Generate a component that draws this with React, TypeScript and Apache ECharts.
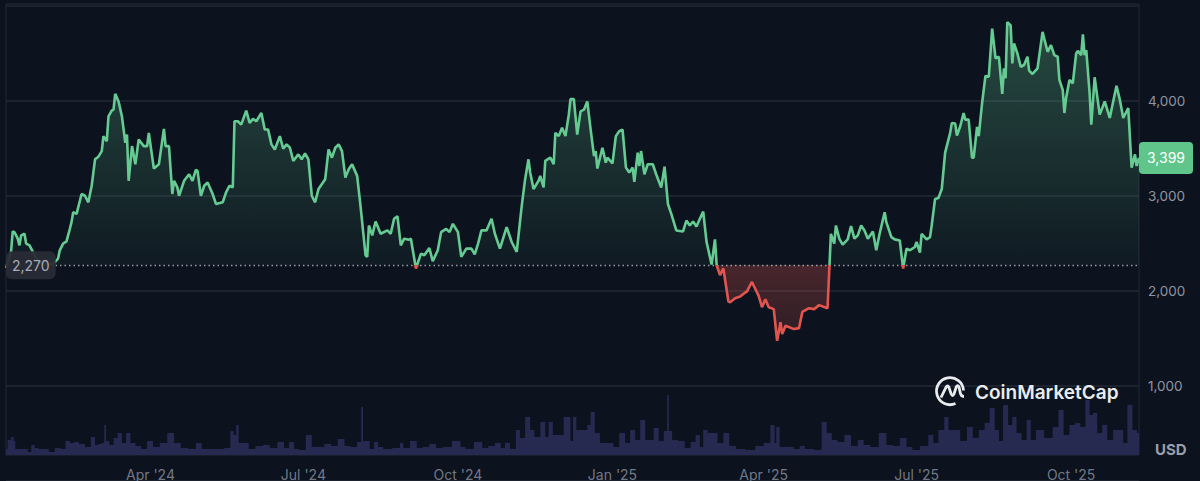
import React, { useEffect, useRef } from "react";
import * as echarts from "echarts";

const START = Date.UTC(2024, 0, 6);
const DAY = 86400000;
const END_DAY = 674.4;
const BASE_PRICE = 2270;
const PRICE_CEILING = 5000;
const LAST_LABEL = "3,399";
const BASE_LABEL = "2,270";
const FONT = "Inter, 'Noto Sans', sans-serif";
const BG = "#0c131e";
const GREEN = "#66cb92";
const RED = "#e2554f";

const tickDates = [
  Date.UTC(2024, 3, 1), Date.UTC(2024, 6, 1), Date.UTC(2024, 9, 1), Date.UTC(2025, 0, 1),
  Date.UTC(2025, 3, 1), Date.UTC(2025, 6, 1), Date.UTC(2025, 9, 1),
];
const tickLabels = ["Apr '24", "Jul '24", "Oct '24", "Jan '25", "Apr '25", "Jul '25", "Oct '25"];
const priceTicks = [1000, 2000, 3000, 4000];

// [day since start, price USD]
const priceA: number[][] = [
  [0,2240],[3,2410],[4,2625],[5,2618],[7,2549],[8,2479],[9,2584],[11,2601],[12,2497],[14,2479],[16,2410],
  [19,2310],[24,2280],[28,2285],[31,2340],[32,2427],[34,2497],[36,2521],[38,2653],[39,2723],[40,2827],[42,2810],
  [45,3019],[47,3001],[49,2932],[51,3106],[53,3384],[55,3412],[57,3471],[58,3628],[60,3575],[61,3836],[63,3899],
  [64,3906],[65,4073],[67,3993],[69,3836],[71,3558],[72,3645],[73,3158],[75,3523],[77,3332],[79,3593],[82,3523],
  [84,3523],[85,3662],[88,3287],[91,3332],[94,3704],[95,3523],[97,3523],[99,3019],[100,3158],[102,3088],[103,3001],
  [106,3158],[109,3227],[111,3158],[113,3273],[114,3262],[116,3001],[118,3106],[120,3140],[123,3019],[125,2914],
  [129,2932],[131,3036],[133,3106],[135,3088],[136,3784],[138,3784],[140,3749],[143,3896],[145,3767],[147,3809],
  [149,3784],[152,3871],[154,3697],[156,3697],[158,3541],[160,3488],[163,3628],[165,3495],[167,3541],[169,3506],
  [171,3367],[174,3436],[176,3384],[178,3447],[180,3384],[182,3001],[184,2932],[186,3071],[190,3175],[192,3488],
  [194,3401],[196,3506],[198,3541],[200,3471],[202,3193],[204,3280],[206,3332],[209,3210],[211,2897],[214,2375],
  [215,2357],[216,2688],[218,2584],[220,2730],[223,2601],[227,2636],[229,2601],[231,2758],[233,2785],[235,2479],
];
const priceB: number[][] = [
  [237,2549],[240,2538],[241,2549],[242,2444],[244,2235],[247,2392],[249,2375],[252,2451],[254,2312],[257,2427],
  [259,2618],[262,2653],[264,2618],[266,2705],[269,2618],[271,2357],[274,2444],[277,2444],[279,2385],[281,2497],
  [283,2636],[286,2636],[289,2758],[291,2601],[294,2444],[298,2671],[301,2514],[304,2410],[307,2897],[309,3175],
  [311,3384],[312,3245],[314,3071],[317,3158],[318,3210],[320,3088],[321,3367],[324,3401],[326,3332],[327,3662],
  [329,3628],[331,3715],[333,3628],[335,3854],[336,4017],[338,4017],[340,3645],[342,3889],[344,3906],[346,3993],
  [348,3697],[350,3419],[351,3471],[352,3287],[355,3506],[357,3349],[358,3401],[361,3342],[363,3628],[365,3680],
  [367,3697],[369,3297],[371,3245],[373,3297],[374,3147],[376,3454],[377,3314],[378,3471],[380,3227],[382,3332],
  [385,3332],[387,3227],[390,3088],[392,3307],[394,2914],[396,2810],[399,2636],[403,2625],[405,2740],[407,2688],
  [409,2730],[411,2678],[413,2758],[415,2834],[417,2514],[420,2277],[422,2542],[423,2270],[425,2166],[427,2236],
  [430,1888],[431,1881],[434,1922],[437,1940],[440,1983],[441,1992],[444,2094],[448,1947],[450,1828],[452,1912],
  [454,1828],[457,1808],[459,1475],[461,1671],[462,1545],[464,1633],[469,1598],[472,1608],
];
const priceC: number[][] = [
  [474,1779],[478,1818],[481,1808],[484,1850],[489,1818],[490,2200],[491,2600],[493,2497],[494,2688],[496,2549],
  [498,2486],[501,2542],[503,2681],[505,2549],[507,2584],[509,2688],[511,2636],[513,2549],[516,2625],[518,2427],
  [520,2601],[523,2827],[524,2723],[527,2566],[529,2542],[532,2531],[534,2235],[536,2444],[538,2427],[541,2462],
  [542,2514],[544,2403],[545,2601],[548,2542],[550,2566],[551,2688],[553,2966],[555,2977],[557,3071],[559,3454],
  [562,3662],[563,3767],[565,3760],[566,3635],[568,3732],[570,3871],[571,3802],[573,3802],[575,3401],[576,3401],
  [578,3725],[579,3628],[581,3976],[583,4261],[585,4254],[587,4759],[589,4445],[591,4463],[593,4073],[594,4341],
  [595,4237],[596,4828],[598,4793],[599,4393],[600,4602],[602,4498],[604,4358],[606,4376],[608,4463],[609,4317],
  [611,4282],[614,4341],[617,4724],[618,4654],[620,4515],[622,4585],[624,4480],[626,4463],[627,4219],[629,4115],
  [630,3871],[631,4028],[633,4219],[635,4184],[637,4498],[638,4525],[640,4480],[641,4699],[642,4480],[643,4532],
  [645,4080],[646,3749],[648,4247],[649,4115],[651,3854],[654,3993],[657,3819],[661,4157],[663,4010],[665,3819],
  [668,3923],[670,3297],[672,3436],[673,3314],[674.4,3399],
];

// [day since start, relative volume]
const volumeA: number[][] = [
  [0,6],[2,15],[4,18],[5,14],[6,6],[12,6],[14,3],[16,10],[18,7],[21,6],[24,6],[27,3],[31,7],[34,6],[37,14],[39,12],
  [42,13],[45,11],[49,8],[52,18],[54,10],[56,11],[58,12],[59,30],[60,14],[63,10],[65,17],[68,22],[70,12],[73,22],[75,12],
  [79,9],[82,6],[86,14],[89,8],[94,12],[98,22],[102,12],[106,7],[111,6],[115,12],[118,6],[123,6],[128,6],[132,7],
  [135,24],[136,20],[138,30],[139,12],[143,12],[146,6],[151,9],[155,10],[159,7],[164,13],[167,7],[170,13],[173,6],
  [176,5],[181,20],[183,8],[187,8],[192,11],[195,9],[200,16],[203,9],[207,8],[211,13],[212,48],[213,14],[215,14],
  [218,6],[220,13],[223,8],[226,6],[234,7],
];
const volumeB: number[][] = [
  [235,12],[238,7],[243,14],[246,7],[250,8],[254,11],[258,7],[262,8],[269,14],[272,8],[275,6],[282,13],[285,7],[289,9],
  [293,12],[296,7],[298,12],[302,6],[305,25],[307,17],[311,38],[313,25],[316,18],[320,33],[322,18],[324,33],[327,20],
  [331,20],[333,38],[335,38],[337,14],[338,38],[341,25],[345,25],[347,30],[349,43],[352,22],[355,12],[360,12],[363,8],
  [367,22],[370,12],[373,25],[376,15],[379,35],[382,15],[384,15],[387,27],[390,14],[393,24],[394,60],[395,24],[398,15],
  [402,14],[406,7],[409,13],[412,20],[414,8],[416,25],[419,22],[422,22],[425,12],[429,22],[432,9],[437,6],[443,5],
  [449,9],[453,12],[457,30],[458,12],[459,28],[462,8],[466,8],[472,6],
];
const volumeC: number[][] = [
  [473,9],[478,6],[484,5],[487,33],[490,22],[493,15],[497,13],[501,20],[505,9],[509,15],[512,10],[517,8],[522,22],
  [526,10],[530,9],[534,17],[538,8],[541,5],[547,9],[551,20],[553,12],[557,25],[560,38],[562,25],[566,25],[570,14],
  [574,28],[577,17],[581,25],[584,32],[587,47],[590,25],[592,14],[595,50],[598,30],[600,38],[603,22],[606,15],[609,35],
  [611,15],[615,25],[621,17],[625,28],[628,45],[631,20],[635,30],[638,32],[641,28],[644,55],[646,40],[648,42],[651,22],
  [654,30],[657,15],[661,25],[664,25],[666,12],[669,50],[672,25],[674.4,22],
];

const LOGO_PATH =
  "M21.5 29 A13.5 13.5 0 1 1 29.5 16 M7 23 L12.2 12.5 Q13.6 10.2 14.8 12.5 L17.2 19.5 Q18.6 22.5 20 19.5 L22.2 12.5 Q23.6 10 25 12.5 L26 17 Q26.6 22 30 22";
echarts.graphic.registerShape("cmcLogo", echarts.graphic.extendPath(LOGO_PATH, {}));

const toTime = (d: number) => START + d * DAY;
const prices = [...priceA, ...priceB, ...priceC].map(([d, v]) => [toTime(d), v]);
const volumes = [...volumeA, ...volumeB, ...volumeC].map(([d, v]) => [toTime(d), v]);
const greenArea = prices.map(([t, v]) => [t, Math.max(v, BASE_PRICE)]);
const redArea = prices.map(([t, v]) => [t, Math.min(v, BASE_PRICE)]);
const monthMarks = tickDates.map((t, i) => ({ value: [t, 0], name: tickLabels[i] }));

const axisRange = { min: START, max: toTime(END_DAY) };
const labelColor = "#8f94a3";

export default function App() {
  const ref = useRef<HTMLDivElement>(null);
  useEffect(() => {
    if (!ref.current) return;
    const chart = echarts.init(ref.current, undefined, { renderer: "svg" });
    chart.setOption({
      animation: false,
      backgroundColor: BG,
      textStyle: { fontFamily: FONT },
      grid: [
        { left: 6, top: 4, width: 1133, height: 451, show: true, borderColor: "#232a36", borderWidth: 1, backgroundColor: "transparent" },
        { left: 6, top: 5.7, width: 1133, height: 476.5 },
      ],
      xAxis: [
        { type: "time", gridIndex: 0, ...axisRange, show: false, splitLine: { show: false } },
        { type: "time", gridIndex: 1, ...axisRange, show: false, splitLine: { show: false } },
      ],
      yAxis: [
        { type: "value", gridIndex: 0, min: 0, max: 451, show: false, splitLine: { show: false } },
        {
          type: "value", gridIndex: 1, min: 0, max: PRICE_CEILING, interval: 1000, position: "right",
          axisLine: { show: false }, axisTick: { show: false },
          splitLine: { show: true, lineStyle: { color: "#222a36", width: 1.5 } },
          axisLabel: {
            color: labelColor, fontSize: 13.5, fontFamily: FONT, margin: 9,
            formatter: (v: number) => (priceTicks.includes(v) ? v.toLocaleString("en-US") : ""),
          },
        },
      ],
      visualMap: {
        show: false, type: "piecewise", seriesIndex: 3, dimension: 1,
        pieces: [
          { lt: BASE_PRICE, color: RED },
          { gte: BASE_PRICE, lt: PRICE_CEILING, color: GREEN },
          { gte: PRICE_CEILING, color: GREEN },
        ],
      },
      series: [
        {
          type: "line", name: "Volume", xAxisIndex: 0, yAxisIndex: 0, data: volumes, step: "middle",
          showSymbol: false, silent: true, lineStyle: { width: 0 },
          areaStyle: { color: "#272a50", opacity: 1 }, itemStyle: { color: "#272a50" },
        },
        {
          type: "line", name: "Above", xAxisIndex: 1, yAxisIndex: 1, data: greenArea,
          showSymbol: false, silent: true, lineStyle: { width: 0 }, itemStyle: { color: GREEN },
          areaStyle: {
            origin: BASE_PRICE,
            color: new echarts.graphic.LinearGradient(0, 0, 0, 1, [
              { offset: 0, color: "rgba(102,203,146,0.30)" },
              { offset: 1, color: "rgba(102,203,146,0.04)" },
            ]),
            opacity: 1,
          },
        },
        {
          type: "line", name: "Below", xAxisIndex: 1, yAxisIndex: 1, data: redArea,
          showSymbol: false, silent: true, lineStyle: { width: 0 }, itemStyle: { color: RED },
          areaStyle: {
            origin: BASE_PRICE,
            color: new echarts.graphic.LinearGradient(0, 0, 0, 1, [
              { offset: 0, color: "rgba(226,85,79,0.28)" },
              { offset: 1, color: "rgba(226,85,79,0.16)" },
            ]),
            opacity: 1,
          },
        },
        {
          type: "line", name: "Price", xAxisIndex: 1, yAxisIndex: 1, data: prices, z: 5,
          showSymbol: false, silent: true, lineStyle: { width: 2.6 },
          endLabel: {
            show: true, formatter: LAST_LABEL, distance: 0, color: "#ffffff", fontSize: 14, fontFamily: FONT,
            backgroundColor: "#5fc58a", padding: [9, 8], borderRadius: 4,
          },
          markLine: {
            silent: true, symbol: "none", animation: false, z: 4,
            label: { show: false },
            lineStyle: { color: "rgba(225,228,235,0.65)", type: [1.5, 3], width: 1.3 },
            data: [{ yAxis: BASE_PRICE }],
          },
          markPoint: {
            silent: true, symbol: "circle", symbolSize: 0, z: 8,
            data: [{ coord: [START, BASE_PRICE] }],
            label: {
              show: true, position: "right", distance: 0, formatter: BASE_LABEL, color: "#a7abb6", fontSize: 14, fontFamily: FONT,
              backgroundColor: "rgba(40,44,54,0.94)", padding: [7, 6], borderRadius: 6,
            },
          },
        },
        {
          type: "scatter", name: "Months", xAxisIndex: 0, yAxisIndex: 0, data: monthMarks,
          symbolSize: 0, silent: true, clip: false, itemStyle: { color: labelColor },
          label: {
            show: true, position: "bottom", distance: 12, color: labelColor, fontSize: 14, fontFamily: FONT,
            formatter: (p: any) => p.name,
          },
        },
      ],
      graphic: [
        { type: "cmcLogo", x: 934, y: 374.5, scaleX: 1, scaleY: 1, z: 20,
          style: { fill: "none", stroke: "#e9ebef", lineWidth: 2.8 } },
        { type: "text", x: 975, y: 392, z: 20,
          style: { text: "CoinMarketCap", fill: "#e9ebef", font: "600 19px Inter, sans-serif", textVerticalAlign: "middle", textBaseline: "middle" } },
        { type: "text", x: 1155, y: 449, z: 20,
          style: { text: "USD", fill: "#9a9eab", font: "700 15px Inter, sans-serif", textVerticalAlign: "middle", textBaseline: "middle" } },
      ],
    });
    return () => chart.dispose();
  }, []);
  return <div ref={ref} style={{ position: "fixed", left: 0, top: 0, width: 1200, height: 481 }} />;
}
